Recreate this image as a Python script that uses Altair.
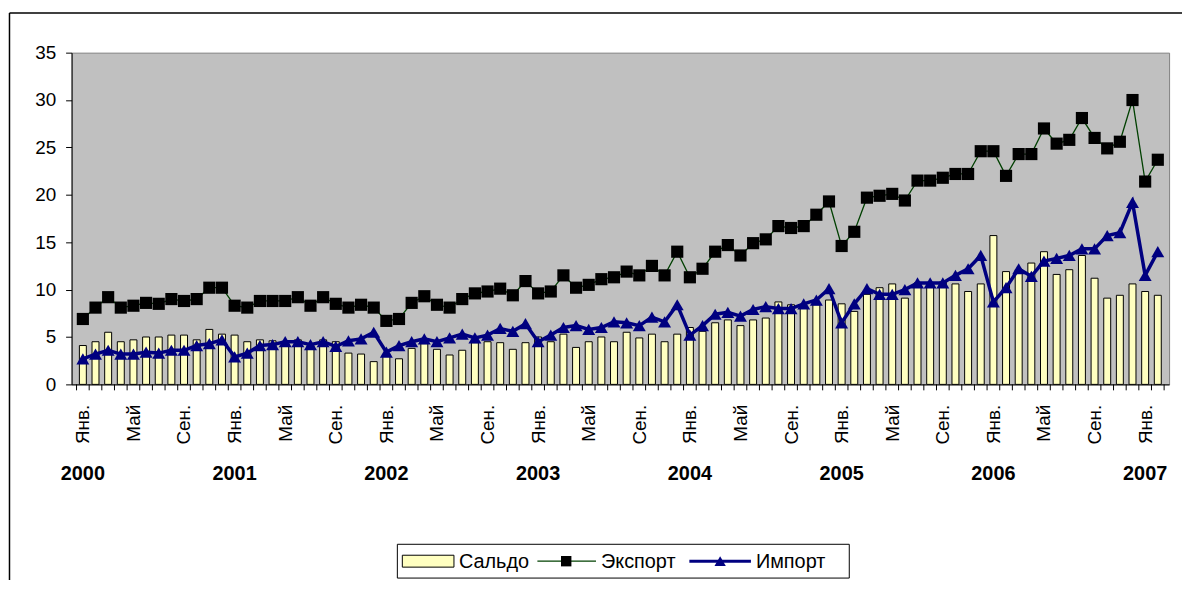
import json
import altair as alt
import pandas as pd

# ---- data (Jan 2000 .. Feb 2007, monthly) ----
month_names = ["Янв.", "Фев.", "Мар.", "Апр.", "Май", "Июн.",
               "Июл.", "Авг.", "Сен.", "Окт.", "Ноя.", "Дек."]
n_months = 86
month_labels = [month_names[i % 12] for i in range(n_months)]
label_every = 4

years = ["2000", "2001", "2002", "2003", "2004", "2005", "2006", "2007"]
year_pos = [0, 12, 24, 36, 48, 60, 72, 84]   # January category of each year

export_vals = [
    6.9, 8.1, 9.2, 8.1, 8.3, 8.6, 8.5, 9.0, 8.8, 9.0, 10.2, 10.2,
    8.3, 8.1, 8.8, 8.8, 8.8, 9.2, 8.3, 9.2, 8.5, 8.1, 8.4, 8.1,
    6.7, 6.9, 8.6, 9.3, 8.4, 8.1, 9.0, 9.6, 9.8, 10.1, 9.4, 10.9,
    9.6, 9.8, 11.5, 10.2, 10.5, 11.1, 11.3, 11.9, 11.5, 12.5, 11.5, 14.0,
    11.3, 12.2, 14.0, 14.7, 13.6, 14.9, 15.3, 16.7, 16.5, 16.7, 17.9, 19.3,
    14.6, 16.1, 19.7, 19.9, 20.1, 19.4, 21.5, 21.5, 21.8, 22.2, 22.2, 24.6,
    24.6, 22.0, 24.3, 24.3, 27.0, 25.4, 25.8, 28.1, 26.0, 24.9, 25.6, 30.0,
    21.4, 23.7,
]
import_vals = [
    2.7, 3.2, 3.6, 3.2, 3.2, 3.4, 3.3, 3.6, 3.6, 4.1, 4.3, 4.7,
    2.9, 3.3, 4.1, 4.2, 4.5, 4.5, 4.2, 4.5, 4.0, 4.6, 4.8, 5.5,
    3.4, 4.1, 4.5, 4.8, 4.5, 4.9, 5.3, 4.9, 5.2, 5.9, 5.6, 6.4,
    4.5, 5.2, 6.0, 6.2, 5.8, 6.0, 6.6, 6.5, 6.2, 7.1, 6.6, 8.4,
    5.2, 6.2, 7.4, 7.6, 7.2, 7.9, 8.2, 8.0, 8.0, 8.5, 8.9, 10.1,
    6.5, 8.5, 10.1, 9.5, 9.5, 10.0, 10.7, 10.7, 10.7, 11.5, 12.2, 13.6,
    8.7, 10.2, 12.2, 11.4, 13.0, 13.3, 13.6, 14.3, 14.3, 15.7, 16.0, 19.2,
    11.5, 14.0,
]
saldo_vals = [
    4.1, 4.5, 5.5, 4.5, 4.7, 5.0, 5.0, 5.2, 5.2, 4.7, 5.8, 5.3,
    5.2, 4.5, 4.7, 4.6, 4.3, 4.7, 4.1, 4.7, 4.5, 3.3, 3.2, 2.4,
    3.2, 2.7, 3.8, 4.3, 3.7, 3.1, 3.6, 4.4, 4.5, 4.4, 3.7, 4.4,
    5.0, 4.5, 5.3, 3.9, 4.5, 5.0, 4.5, 5.5, 4.9, 5.3, 4.5, 5.3,
    6.0, 5.6, 6.5, 6.8, 6.2, 6.8, 7.0, 8.7, 8.4, 8.1, 8.4, 8.9,
    8.5, 7.7, 9.5, 10.2, 10.6, 9.1, 10.7, 10.7, 10.8, 10.6, 9.8, 10.6,
    15.7, 11.9, 12.1, 12.8, 14.0, 11.6, 12.1, 13.6, 11.2, 9.1, 9.4, 10.6,
    9.8, 9.4,
]
legend_labels = ["Сальдо", "Экспорт", "Импорт"]
y_ticks = [0, 5, 10, 15, 20, 25, 30, 35]

df = pd.DataFrame({
    "idx": list(range(n_months)),
    "month": month_labels,
    "saldo": saldo_vals,
    "export": export_vals,
    "import": import_vals,
})
df_years = pd.DataFrame({"year": years, "pos": year_pos})
# category boundaries (Excel puts the category-axis ticks between categories)
df_bounds = pd.DataFrame({"b": [i - 0.5 for i in range(n_months + 1)]})

FONT = "Liberation Sans"
FS = 19
W, H = 1105, 334
one = alt.Data(values=[{"k": 1}])

xscale = alt.Scale(domain=[-0.5, n_months - 0.5], nice=False, zero=False)
yscale = alt.Scale(domain=[0, 35], nice=False)

y_axis = alt.Axis(values=y_ticks, title=None, grid=False,
                  domainColor="black", tickColor="black", tickSize=6,
                  labelPadding=10, labelFontSize=FS, labelColor="black",
                  labelFont=FONT)

label_expr = json.dumps(month_labels, ensure_ascii=False) + "[datum.value]"
x_axis = alt.Axis(values=list(range(0, n_months, label_every)), labelExpr=label_expr,
                  ticks=False, domain=True, domainColor="black", grid=False, title=None,
                  labelAngle=270, labelAlign="right",
                  labelBaseline="middle", labelPadding=20, labelFontSize=FS,
                  labelColor="black", labelFont=FONT, labelOverlap=False,
                  labelFlush=False)

X = lambda f: alt.X(f, scale=xscale, axis=x_axis)
Y = lambda f: alt.Y(f, scale=yscale, axis=y_axis)

base = alt.Chart(df)

bars = base.mark_bar(size=7, fill="#FFFFC0", stroke="black", strokeWidth=1).encode(
    x=X("idx:Q"), y=Y("saldo:Q"))

exp_line = base.mark_line(color="#004000", strokeWidth=1.3).encode(
    x=X("idx:Q"), y=Y("export:Q"))
exp_pts = base.mark_point(shape="square", filled=True, size=150, color="black", opacity=1).encode(
    x=X("idx:Q"), y=Y("export:Q"))
imp_line = base.mark_line(color="#000080", strokeWidth=3.5).encode(
    x=X("idx:Q"), y=Y("import:Q"))
imp_pts = base.mark_point(shape="triangle-up", filled=True, size=170, color="#000080", opacity=1).encode(
    x=X("idx:Q"), y=Y("import:Q"))

ticks = alt.Chart(df_bounds).mark_rule(color="black", strokeWidth=1).encode(
    x=X("b:Q"), y=alt.value(H), y2=alt.value(H + 6))

year_text = alt.Chart(df_years).mark_text(font=FONT, fontSize=20, fontWeight="bold",
                                          align="center", baseline="middle", color="black").encode(
    x=X("pos:Q"), y=alt.value(H + 90), text="year:N")

# outer chart-area frame (left and top edges visible)
frame_left = alt.Chart(one).mark_rule(color="black", strokeWidth=1.5).encode(
    x=alt.value(-62.5), y=alt.value(-40), y2=alt.value(H + 260))
frame_top = alt.Chart(one).mark_rule(color="black", strokeWidth=1.5).encode(
    x=alt.value(-62.5), x2=alt.value(W + 20), y=alt.value(-40))

# legend (drawn manually, Excel style)
LY = 512  # legend centre line (plot coordinates)
LFS = 20
leg_box = alt.Chart(one).mark_rect(fill="white", stroke="black", strokeWidth=1).encode(
    x=alt.value(328), x2=alt.value(783), y=alt.value(LY - 17), y2=alt.value(LY + 17))
leg_swatch = alt.Chart(one).mark_rect(fill="#FFFFC0", stroke="black", strokeWidth=1).encode(
    x=alt.value(333), x2=alt.value(385), y=alt.value(LY - 6), y2=alt.value(LY + 6))
leg_exp_line = alt.Chart(one).mark_rule(color="#004000", strokeWidth=1.3).encode(
    x=alt.value(469), x2=alt.value(528), y=alt.value(LY))
leg_exp_pt = alt.Chart(one).mark_point(shape="square", filled=True, size=110, color="black", opacity=1).encode(
    x=alt.value(498), y=alt.value(LY))
leg_imp_line = alt.Chart(one).mark_rule(color="#000080", strokeWidth=3).encode(
    x=alt.value(622), x2=alt.value(684), y=alt.value(LY))
leg_imp_pt = alt.Chart(one).mark_point(shape="triangle-up", filled=True, size=130, color="#000080", opacity=1).encode(
    x=alt.value(653), y=alt.value(LY))


def leg_text(label, xpos):
    return alt.Chart(one).mark_text(font=FONT, fontSize=LFS, align="left", baseline="middle",
                                    color="black").encode(
        x=alt.value(xpos), y=alt.value(LY + 1), text=alt.value(label))


chart = alt.layer(
    bars, exp_line, exp_pts, imp_line, imp_pts, ticks, year_text,
    frame_left, frame_top,
    leg_box, leg_swatch, leg_exp_line, leg_exp_pt, leg_imp_line, leg_imp_pt,
    leg_text(legend_labels[0], 390), leg_text(legend_labels[1], 533), leg_text(legend_labels[2], 689),
).properties(
    width=W, height=H,
    autosize=alt.AutoSizeParams(type="none"),
    padding={"left": 64, "top": 43, "right": 13, "bottom": 195},
).configure(font=FONT, background="white").configure_view(
    fill="#C0C0C0", stroke="#808080", strokeWidth=1)

chart.save("out.html", embed_options={"renderer": "svg", "actions": False})
